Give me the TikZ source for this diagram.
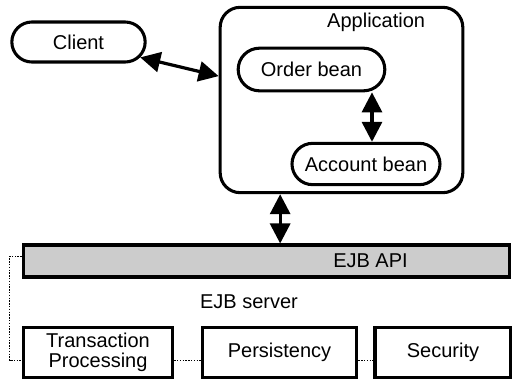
\documentclass[tikz,border=0pt]{standalone}
\usepackage{fontspec}
\setmainfont{Liberation Sans}
\usetikzlibrary{arrows.meta,shapes.misc}
\begin{document}
\begin{tikzpicture}[x=0.75pt,y=-0.75pt,
    font=\fontsize{15}{15}\selectfont,
    pill/.style={draw,line width=2.3pt,rounded rectangle,inner sep=0pt},
    srvbox/.style={draw,line width=2.3pt,minimum height=38pt,align=center,inner sep=0pt},
    dbl/.style={line width=2.4pt,{Triangle[length=15pt,width=15pt]}-{Triangle[length=15pt,width=15pt]}},
    link/.style={densely dotted,line width=1.1pt}]
    \useasboundingbox (0,0) rectangle (512,379);
    % client and application
    \node[pill,minimum width=100pt,minimum height=30pt] (client) at (78.5,42) {Client};
    \node[draw,line width=2.3pt,rounded corners=15pt,minimum width=182pt,minimum height=139pt] (app) at (341.5,100) {};
    \node[anchor=north] (apptitle) at ([xshift=26pt,yshift=-2pt]app.north) {Application};
    \node[pill,minimum width=110pt,minimum height=32pt] (order) at (311.5,69.5) {Order bean};
    \node[pill,minimum width=111pt,minimum height=31pt] (acct) at (366,164) {Account bean};
    \draw[dbl] (client.-14) -- (app.169);
    \draw[dbl] ([xshift=4.5pt]acct.north |- order.south) -- ([xshift=4.5pt]acct.north);
    % EJB server
    \node[draw,line width=2.3pt,fill=black!20,minimum width=365pt,minimum height=24pt,inner sep=0pt] (api) at (266.5,261) {};
    \node (apitext) at ([xshift=78pt]api.center) {EJB API};
    \draw[dbl] ([xshift=-46pt]app.south) -- ([xshift=-46pt]app.south |- api.north);
    \node (server) at (249,302) {EJB server};
    \node[srvbox,minimum width=112pt] (tp) at (98,352.5) {Transaction\\Processing};
    \node[srvbox,minimum width=116pt] (pers) at (279.5,352.5) {Persistency};
    \node[srvbox,minimum width=102pt] (sec) at (443,352.5) {Security};
    \draw[link] ([yshift=3.5pt]api.west) -- ++(-12,0) |- ([yshift=-6pt]tp.west);
    \draw[link] ([yshift=-6pt]tp.east) -- ([yshift=-6pt]pers.west);
    \draw[link] ([yshift=-6pt]pers.east) -- ([yshift=-6pt]sec.west);
\end{tikzpicture}
\end{document}
